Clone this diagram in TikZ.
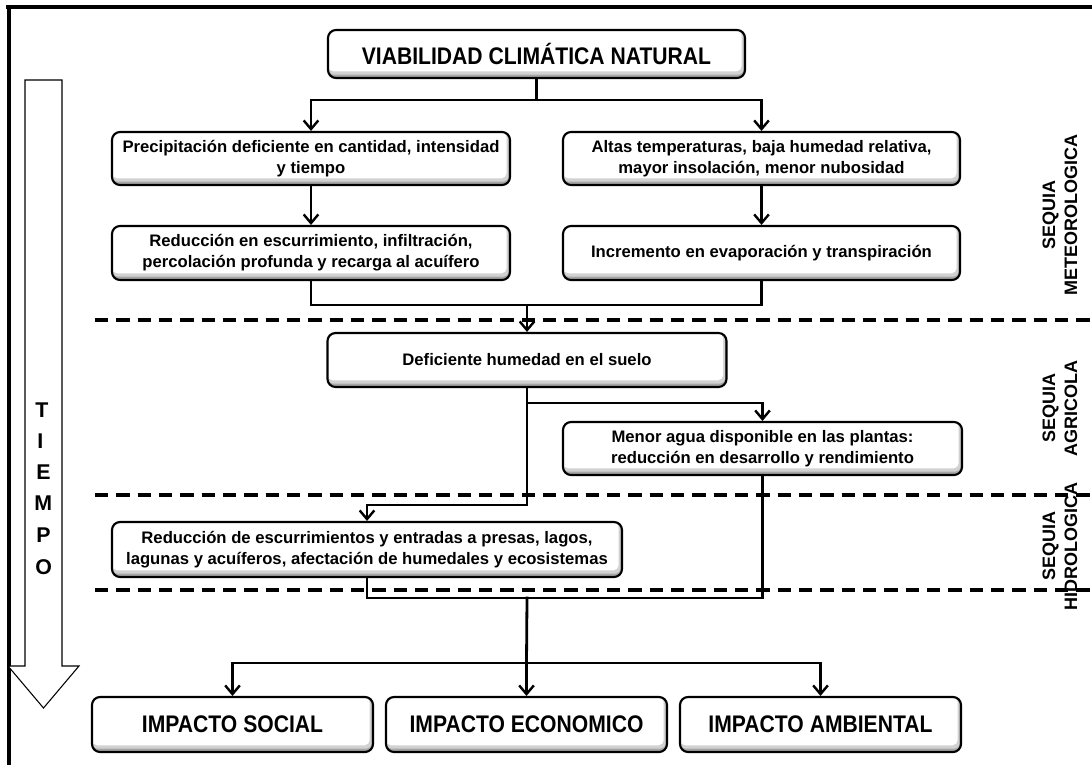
\documentclass[tikz,border=0pt]{standalone}
\usepackage{fontspec}
\setmainfont{Liberation Sans}
\newfontfamily\narrowfont[FakeStretch=0.88]{Liberation Sans}
\usetikzlibrary{arrows.meta}
\begin{document}
\begin{tikzpicture}[x=0.75pt,y=-0.75pt,
  box/.style={draw=black, line width=1.6pt, rounded corners=6pt, fill=gray!70, inner sep=0pt, align=center,
    font=\fontsize{12.5}{15.7}\selectfont\bfseries,
    path picture={
      \fill[gray!35, rounded corners=4pt] (path picture bounding box.north west) rectangle ([shift={(-1pt,2.5pt)}]path picture bounding box.south east);
      \fill[white, rounded corners=4pt] (path picture bounding box.north west) rectangle ([shift={(-2.5pt,5pt)}]path picture bounding box.south east);}},
  bigbox/.style={box, font=\narrowfont\fontsize{18}{20}\selectfont\bfseries},
  sz/.style 2 args={minimum width=#1*0.75pt, minimum height=#2*0.75pt},
  conn/.style={line width=2.1pt, line cap=rect},
  arr/.style={line width=2.1pt, -{Straight Barb[length=6.5pt,width=11pt,line width=1.8pt]}},
  sidelbl/.style={rotate=90, align=center, font=\fontsize{13.5}{16.5}\selectfont\bfseries},
  sepline/.style={line width=2.6pt, dash pattern=on 10pt off 6pt},
  tletter/.style={anchor=west, inner sep=0pt, font=\fontsize{16}{18}\selectfont\bfseries}
]
\useasboundingbox (0,0) rectangle (1092,765);
% frame
\draw[line width=2.3pt] (6,7) -- (1092,7);
\draw[line width=2.3pt] (9,7) -- (9,765);
% dashed separators
\draw[sepline] (95,320) -- (1092,320);
\draw[sepline] (95,495) -- (1092,495);
\draw[sepline] (95,590) -- (1092,590);
% time arrow
\draw[line width=0.8pt, fill=white, line join=miter] (25,80) -- (62,80) -- (62,666) -- (79,666) -- (43.5,708) -- (8,666) -- (25,666) -- cycle;
\node[tletter] (tT) at (35,410) {T};
\node[tletter] (tI) at (37,441) {I};
\node[tletter] (tE) at (36,472) {E};
\node[tletter] (tM) at (34,503) {M};
\node[tletter] (tP) at (36,535) {P};
\node[tletter] (tO) at (35,567) {O};
% side labels
\node[sidelbl] (l1) at (1060,215) {SEQUIA\\METEOROLOGICA};
\node[sidelbl] (l2) at (1060,408) {SEQUIA\\AGRICOLA};
\node[sidelbl] (l3) at (1060,546) {SEQUIA\\HIDROLOGICA};
% boxes
\node[bigbox, sz={417}{48}] (t) at (536.5,54) {VIABILIDAD CLIMÁTICA NATURAL};
\node[box, sz={398}{53}] (p1) at (311,158.5) {Precipitación deficiente en cantidad, intensidad\\y tiempo};
\node[box, sz={397}{53}] (a1) at (761.5,158.5) {Altas temperaturas, baja humedad relativa,\\mayor insolación, menor nubosidad};
\node[box, sz={398}{54}] (p2) at (311,253) {Reducción en escurrimiento, infiltración,\\percolación profunda y recarga al acuífero};
\node[box, sz={397}{54}] (a2) at (761.5,253) {Incremento en evaporación y transpiración};
\node[box, sz={399}{54}] (d) at (527,360) {Deficiente humedad en el suelo};
\node[box, sz={399}{53}] (m) at (762.5,448.5) {Menor agua disponible en las plantas:\\reducción en desarrollo y rendimiento};
\node[box, sz={510}{55}] (r) at (367,549.5) {Reducción de escurrimientos y entradas a presas, lagos,\\lagunas y acuíferos, afectación de humedales y ecosistemas};
\node[bigbox, sz={281}{55}] (s) at (232.5,724.5) {IMPACTO SOCIAL};
\node[bigbox, sz={281}{55}] (e) at (526.5,724.5) {IMPACTO ECONOMICO};
\node[bigbox, sz={281}{55}] (am) at (820.5,724.5) {IMPACTO AMBIENTAL};
% connectors
\coordinate (j1) at (536.5,100);
\draw[conn] (t.south) -- (j1);
\draw[arr] (j1) -| (p1.north);
\draw[arr] (j1) -| (a1.north);
\draw[arr] (p1.south) -- (p2.north);
\draw[arr] (a1.south) -- (a2.north);
\coordinate (j2) at (527,305);
\draw[conn] (p2.south) |- (a2.south |- j2) -- (a2.south);
\draw[arr] (j2) -- (d.north);
\coordinate (j3) at (527,403);
\draw[conn] (d.south) -- (j3);
\draw[arr] (j3) -| (m.north);
\coordinate (j4) at (527,505);
\draw[conn] (j3) -- (j4);
\draw[arr] (j4) -| (r.north);
\coordinate (j5) at (527,598);
\draw[conn] (r.south) |- (m.south |- j5) -- (m.south);
\coordinate (j6) at (526.5,663);
\draw[conn] (j5) -- (j6);
\draw[arr] (j6) -| (s.north);
\draw[arr] (j6) -- (e.north);
\draw[arr] (j6) -| (am.north);
\end{tikzpicture}
\end{document}
